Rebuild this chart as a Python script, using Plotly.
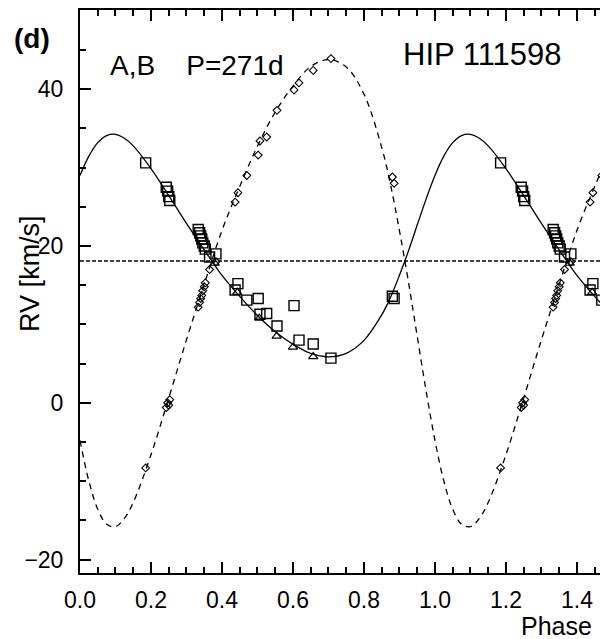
import plotly.graph_objects as go

# Orbital phase of each spectrum and the measured radial velocities (km/s)
obs_phase = [0.185, 0.243, 0.247, 0.250, 0.253, 0.333, 0.337, 0.340, 0.343, 0.346,
             0.350, 0.353, 0.365, 0.383, 0.437, 0.445, 0.470, 0.502, 0.507, 0.526,
             0.555, 0.603, 0.617, 0.657, 0.707, 0.880, 0.885]
rv_a = [30.6, 27.5, 27.0, 26.3, 25.8, 22.1, 21.7, 21.3, 20.9, 20.4,
        20.0, 19.6, 18.6, 19.0, 14.4, 15.2, 13.1, 13.3, 11.3, 11.4,
        9.8, 12.4, 8.0, 7.5, 5.7, 13.6, 13.3]
rv_b = [-8.3, -0.6, 0.0, -0.3, 0.4, 12.2, 12.8, 13.3, 13.7, 14.3,
        14.8, 15.3, 17.0, 18.0, 25.6, 26.8, 29.0, 31.6, 33.4, 33.9,
        37.3, 39.9, 40.8, 42.4, 43.9, 28.8, 28.0]

# Secondary set of component-A velocities
tri_phase = [0.380, 0.443, 0.505, 0.554, 0.600, 0.657]
tri_rv = [17.8, 14.1, 10.8, 8.5, 7.1, 5.9]

# Orbit solution curves over one cycle
curve_phase = [0.0, 0.025, 0.05, 0.075, 0.10, 0.125, 0.15, 0.20, 0.25, 0.30,
               0.35, 0.40, 0.45, 0.50, 0.55, 0.60, 0.65, 0.70, 0.75, 0.80,
               0.85, 0.875, 0.90, 0.925, 0.95, 0.975, 1.0]
curve_a = [29.0, 31.46, 33.18, 34.09, 34.24, 33.74, 32.77, 29.87, 26.43, 22.89,
           19.52, 16.25, 13.58, 11.13, 9.06, 7.48, 6.30, 5.87, 6.32, 7.97,
           11.21, 13.48, 16.26, 19.33, 22.67, 25.98, 29.0]
curve_b = [-4.79, -9.96, -13.57, -15.48, -15.79, -14.74, -12.71, -6.62, 0.61, 8.04,
           15.12, 21.99, 27.59, 32.74, 37.08, 40.40, 42.88, 43.78, 42.84, 39.37,
           32.57, 27.80, 21.96, 15.52, 8.50, 1.55, -4.79]

gamma = 18.1  # systemic velocity

x_ticks = [0.0, 0.2, 0.4, 0.6, 0.8, 1.0, 1.2, 1.4]
y_ticks = [-20, 0, 20, 40]


def two_cycles(ph, vals, skip_first=False):
    """Repeat phased values over a second cycle."""
    start = 1 if skip_first else 0
    xs = list(ph) + [p + 1.0 for p in ph[start:]]
    ys = list(vals) + list(vals[start:])
    return xs, ys


FONT = "Liberation Sans, Arial, Helvetica, sans-serif"
fig = go.Figure()

cx, cy = two_cycles(curve_phase, curve_a, skip_first=True)
fig.add_trace(go.Scatter(x=cx, y=cy, mode="lines", line=dict(color="black", width=1.3, shape="spline"),
                         hoverinfo="skip"))
cx, cy = two_cycles(curve_phase, curve_b, skip_first=True)
fig.add_trace(go.Scatter(x=cx, y=cy, mode="lines",
                         line=dict(color="black", width=1.3, dash="6px,5px", shape="spline"),
                         hoverinfo="skip"))

px, py = two_cycles(obs_phase, rv_a)
fig.add_trace(go.Scatter(x=px, y=py, mode="markers",
                         marker=dict(symbol="square-open", size=10, color="black", line=dict(width=1.4))))
px, py = two_cycles(tri_phase, tri_rv)
fig.add_trace(go.Scatter(x=px, y=py, mode="markers",
                         marker=dict(symbol="triangle-up-open", size=8, color="black", line=dict(width=1.2))))
px, py = two_cycles(obs_phase, rv_b)
fig.add_trace(go.Scatter(x=px, y=py, mode="markers",
                         marker=dict(symbol="diamond-open", size=6, color="black", line=dict(width=1.1))))

fig.add_shape(type="line", xref="paper", x0=0, x1=1, yref="y", y0=gamma, y1=gamma,
              line=dict(color="black", width=1.5, dash="4px,2px"))

fig.update_xaxes(range=[0, 1.465], tickvals=x_ticks, ticktext=[f"{v:.1f}" for v in x_ticks],
                 ticks="inside", ticklen=11, tickwidth=2, tickcolor="black",
                 minor=dict(dtick=0.05, tick0=0, ticks="inside", ticklen=6, tickwidth=1.5, tickcolor="black"),
                 showline=True, linewidth=2, linecolor="black", mirror="ticks",
                 showgrid=False, zeroline=False, ticklabelstandoff=5,
                 tickfont=dict(family=FONT, size=23, color="black"))
fig.update_yaxes(range=[-21.7, 50.1], tickvals=y_ticks, ticktext=["\u221220", "0", "20", "40"],
                 ticks="inside", ticklen=11, tickwidth=2, tickcolor="black",
                 minor=dict(dtick=5, tick0=0, ticks="inside", ticklen=6, tickwidth=1.5, tickcolor="black"),
                 showline=True, linewidth=2, linecolor="black", mirror=False,
                 showgrid=False, zeroline=False, ticklabelstandoff=10,
                 tickfont=dict(family=FONT, size=23, color="black"))

nb = "\u00a0"
annotations = [
    dict(text="(d)", x=-0.0923, y=0.9485, font=dict(size=28, family=FONT, color="black"),
         xanchor="center", yanchor="middle"),
    dict(text=f"A,B{nb*4}P=271d", x=0.0538, y=0.9014, font=dict(size=28, family=FONT, color="black"),
         xanchor="left", yanchor="middle"),
    dict(text="HIP 111598", x=0.617, y=0.921, font=dict(size=31, family=FONT, color="black"),
         xanchor="left", yanchor="middle"),
    dict(text="RV [km/s]", x=-0.0962, y=0.533, textangle=-90, font=dict(size=27, family=FONT, color="black"),
         xanchor="center", yanchor="middle"),
    dict(text="Phase", x=0.9865, y=-0.0935, font=dict(size=25, family=FONT, color="black"),
         xanchor="right", yanchor="middle", borderpad=0),
]
for a in annotations:
    a.update(xref="paper", yref="paper", showarrow=False)
fig.update_layout(annotations=annotations)
fig.layout.annotations[0].font.weight = "bold"

fig.update_layout(width=600, height=639, margin=dict(l=80, r=0, t=10, b=66),
                  paper_bgcolor="white", plot_bgcolor="white", showlegend=False)

fig.write_html("out.html")
